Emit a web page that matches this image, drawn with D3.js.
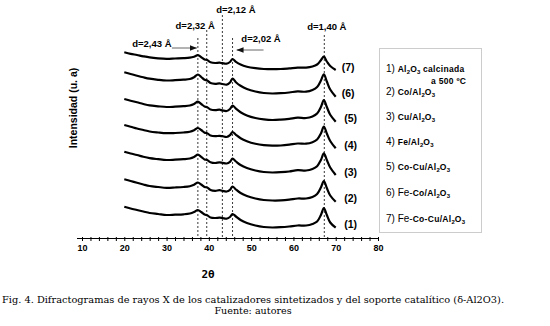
<!DOCTYPE html>
<html>
<head>
<meta charset="utf-8">
<script src="https://cdn.jsdelivr.net/npm/d3@7"></script>
<style>
  html, body { margin: 0; padding: 0; background: #fff; }
  svg { display: block; }
</style>
</head>
<body>
<svg id="chart" width="550" height="326"></svg>
<script>
// ---------------- DATA ----------------
const twoTheta = [20, 21.5, 23, 24.5, 26, 28, 30, 32, 34, 35.5, 36.5, 37.4, 38.2, 39, 39.6, 40.4, 41.5, 42.5, 43.2, 44.2, 45, 45.6, 46.4, 47.5, 49, 51, 53, 55, 57, 59, 61, 63, 64.5, 65.6, 66.5, 67.2, 67.9, 68.7, 70];

const series1 = [31.3, 29.5, 28, 26.5, 25, 24, 23, 23.3, 23.7, 24.5, 26, 28, 26, 23.5, 22.8, 20.5, 20, 20.3, 20, 19.3, 21, 24, 21.5, 18, 15, 12.5, 11, 10.5, 10.8, 11.5, 12.5, 12.5, 14, 16.5, 23, 30, 23, 15.5, 10.3];
const series2 = [58.7, 57, 55.2, 53.5, 52, 51, 50.2, 50.5, 51, 51.8, 53.2, 55.5, 53.5, 51, 50.5, 48, 47.2, 47.8, 47.2, 46.5, 48.2, 51.5, 48.5, 45, 42, 39.5, 38, 37.5, 37.6, 38.3, 39.5, 39.5, 41, 44, 50.5, 57, 50, 42.5, 36.3];
const series3 = [86.3, 84.5, 83, 81.2, 79.8, 78.8, 78, 78.3, 78.8, 79.5, 81, 83.3, 81.2, 78.5, 78, 75.8, 75, 75.6, 75.2, 74.5, 76.2, 79.3, 76.5, 73, 70, 67.5, 66, 65.5, 65.8, 66.5, 67.8, 67.5, 69, 71.8, 78, 84.7, 78, 70.5, 63];
const series4 = [113, 111.3, 109.5, 108, 106.5, 105.5, 104.8, 105, 105.5, 106.3, 107.8, 110, 108, 105.3, 104.8, 102.5, 101.8, 102.2, 101.8, 101, 102.8, 106, 103.2, 99.8, 96.8, 94.2, 92.8, 92.3, 92.5, 93.3, 94.5, 94.3, 95.8, 98.5, 104.5, 111.3, 104.5, 97, 89.7];
const series5 = [139, 137.3, 135.7, 134, 132.6, 131.7, 131, 131.3, 131.8, 132.5, 134, 136.3, 134, 131.5, 130.8, 128.5, 127.8, 128.3, 127.6, 127, 129, 132.5, 129.3, 125.8, 122.6, 120, 118.6, 118, 118.4, 119.2, 120.3, 120, 121.6, 124.5, 131, 138, 131, 123.2, 116.3];
const series6 = [165.7, 164, 162.3, 160.7, 159.3, 158.2, 157.5, 157.8, 158.3, 159, 160.8, 163.5, 161, 158.2, 157.6, 155, 154.2, 154.6, 154, 153.3, 155.5, 159.5, 155.8, 152.2, 149, 146.5, 145, 144.5, 144.8, 145.5, 146.6, 146.3, 148, 151, 157.5, 163.7, 156.5, 148.5, 141.3];
const series7 = [185.7, 184.2, 183, 181.7, 180.6, 179.7, 179.2, 179.5, 179.8, 180.3, 181.3, 182.8, 180.8, 178.5, 178, 175.8, 175, 175.3, 174.8, 174.3, 176, 179, 176.2, 173.5, 171.3, 169.8, 169, 168.8, 169, 169.6, 170.3, 170.4, 171.5, 173.5, 177.8, 181.3, 176.5, 172, 168];

const seriesLabels = ["(1)", "(2)", "(3)", "(4)", "(5)", "(6)", "(7)"];

const xTicks = [10, 20, 30, 40, 50, 60, 70, 80];

const refPeaks = [37.4, 39.5, 43.2, 45.6, 67.3];
const refLabels = ["d=2,43 Å", "d=2,32 Å", "d=2,12 Å", "d=2,02 Å", "d=1,40 Å"];

// legend entries ("_" marks a subscript digit)
const legendNums = ["1)", "2)", "3)", "4)", "5)", "6)", "7)"];
const legendBig = ["", "", "", "", "", "Fe-", "Fe-"];
const legendSmall = ["Al_2O_3 calcinada", "Co/Al_2O_3", "Cu/Al_2O_3", "Fe/Al_2O_3", "Co-Cu/Al_2O_3", "Co/Al_2O_3", "Co-Cu/Al_2O_3"];
const legendExtra = "a 500 ºC";

const xTitle = "2θ";
const yTitle = "Intensidad (u. a)";
const caption1 = "Fig. 4. Difractogramas de rayos X de los catalizadores sintetizados y del soporte catalítico (δ-Al2O3).";
const caption2 = "Fuente: autores";

// ---------------- DRAWING ----------------
const allSeries = [series1, series2, series3, series4, series5, series6, series7];
const svg = d3.select("#chart");
svg.append("rect").attr("width", 550).attr("height", 326).attr("fill", "#fff");

const x = d3.scaleLinear().domain([10, 80]).range([82, 378]);
const y = d3.scaleLinear().domain([0, 230]).range([238, 8]);
const axisY = 238;

const SANS = "'Liberation Sans', Arial, sans-serif";

// dashed reference lines
const dashTops = [38, 30, 15, 38, 35];
svg.selectAll("line.ref").data(refPeaks).enter().append("line")
  .attr("class", "ref")
  .attr("x1", d => x(d)).attr("x2", d => x(d))
  .attr("y1", (d, i) => dashTops[i]).attr("y2", axisY)
  .attr("stroke", "#222").attr("stroke-width", 0.9)
  .attr("stroke-dasharray", "2,2");

// x axis
const xAxis = d3.axisBottom(x)
  .tickValues(d3.range(10, 81, 2))
  .tickSize(3)
  .tickFormat(d => xTicks.includes(d) ? d : "");
const gx = svg.append("g").attr("transform", `translate(0,${axisY})`).call(xAxis);
gx.select(".domain").attr("d", `M77,0.5H378`).attr("stroke", "#000").attr("stroke-width", 1.2);
gx.selectAll(".tick line").attr("y1", -1).attr("stroke", "#000").attr("stroke-width", 1);
gx.selectAll(".tick text")
  .attr("y", 7)
  .attr("font-family", SANS).attr("font-size", 9).attr("font-weight", "bold")
  .attr("fill", "#000");

// axis titles
svg.append("text").attr("x", 208).attr("y", 278)
  .attr("text-anchor", "middle")
  .attr("font-family", "'DejaVu Sans Mono', monospace").attr("font-weight", "bold").attr("font-size", 11)
  .text(xTitle);

svg.append("text")
  .attr("transform", "translate(76.5,108) rotate(-90)")
  .attr("text-anchor", "middle")
  .attr("font-family", SANS).attr("font-weight", "bold").attr("font-size", 10.5)
  .text(yTitle);

// curves
const line = d3.line()
  .x((d, i) => x(twoTheta[i]))
  .y(d => y(d))
  .curve(d3.curveCatmullRom.alpha(0.5));

svg.selectAll("path.xrd").data(allSeries).enter().append("path")
  .attr("class", "xrd")
  .attr("d", d => line(d))
  .attr("fill", "none")
  .attr("stroke", "#000")
  .attr("stroke-width", 2.2)
  .attr("stroke-linejoin", "round");

// curve labels
svg.selectAll("text.slab").data(allSeries).enter().append("text")
  .attr("class", "slab")
  .attr("x", (d, i) => x(70) + (i === 5 || i === 6 ? 6 : 8.5))
  .attr("y", d => y(d[d.length - 1]) - 3)
  .attr("dy", "0.35em")
  .attr("font-family", SANS).attr("font-size", 10.5).attr("font-weight", "bold")
  .text((d, i) => seriesLabels[i]);

// reference labels and arrows
const defs = svg.append("defs");
defs.append("marker").attr("id", "ah")
  .attr("viewBox", "0 0 10 10").attr("refX", 10).attr("refY", 5)
  .attr("markerWidth", 7).attr("markerHeight", 7).attr("orient", "auto")
  .attr("markerUnits", "userSpaceOnUse")
  .append("path").attr("d", "M0,1 L10,5 L0,9 Z").attr("fill", "#111");

const labelPos = [
  {dx: -46, y: 46.5}, // 2.43
  {dx: -11.5, y: 28.5}, // 2.32
  {dx: 13.5, y: 12.5}, // 2.12
  {dx: 28.5, y: 41.5}, // 2.02
  {dx: 2.5, y: 30}  // 1.40
];
svg.selectAll("text.dlab").data(refLabels).enter().append("text")
  .attr("class", "dlab")
  .attr("x", (d, i) => x(refPeaks[i]) + labelPos[i].dx)
  .attr("y", (d, i) => labelPos[i].y)
  .attr("text-anchor", "middle")
  .attr("font-family", SANS).attr("font-size", 9.5).attr("font-weight", "bold")
  .text(d => d);

svg.append("line")
  .attr("x1", x(refPeaks[0]) - 26).attr("x2", x(refPeaks[0]) - 1)
  .attr("y1", 48).attr("y2", 48)
  .attr("stroke", "#666").attr("stroke-width", 1)
  .attr("marker-end", "url(#ah)");
svg.append("line")
  .attr("x1", x(refPeaks[3]) + 31).attr("x2", x(refPeaks[3]) + 4)
  .attr("y1", 50).attr("y2", 50)
  .attr("stroke", "#666").attr("stroke-width", 1)
  .attr("marker-end", "url(#ah)");

// legend box
const lg = svg.append("g");
lg.append("rect").attr("x", 379.5).attr("y", 48.5).attr("width", 102).attr("height", 184)
  .attr("fill", "#fff").attr("stroke", "#ccc").attr("stroke-width", 1);

const lineYs = [71.5, 95, 120, 145, 170, 196, 221.5];
legendNums.forEach((num, i) => {
  const t = lg.append("text").attr("x", 386).attr("y", lineYs[i])
    .attr("font-family", SANS).attr("fill", "#000");
  t.append("tspan").attr("font-size", 10).text(num + " ");
  if (legendBig[i]) t.append("tspan").attr("font-size", 10).text(legendBig[i]);
  const parts = legendSmall[i].split(/(_\d)/).filter(s => s.length);
  let pending = 0;
  parts.forEach(p => {
    if (p.startsWith("_")) {
      t.append("tspan").attr("font-size", 6).attr("font-weight", "bold")
        .attr("dy", 2 - pending).text(p.slice(1));
      pending = 2;
    } else {
      t.append("tspan").attr("font-size", 8.5).attr("font-weight", "bold")
        .attr("letter-spacing", 0.3).attr("dy", -pending).text(p);
      pending = 0;
    }
  });
});
lg.append("text").attr("x", 431).attr("y", 83.5)
  .attr("font-family", SANS).attr("font-size", 8.5).attr("font-weight", "bold")
  .attr("letter-spacing", 0.3)
  .text(legendExtra);

// caption
const SERIF = "'DejaVu Serif', 'Liberation Serif', serif";
svg.append("text").attr("x", 253).attr("y", 302.5)
  .attr("text-anchor", "middle")
  .attr("font-family", SERIF).attr("font-size", 9.6)
  .attr("textLength", 502).attr("lengthAdjust", "spacingAndGlyphs")
  .text(caption1);
svg.append("text").attr("x", 253).attr("y", 314)
  .attr("text-anchor", "middle")
  .attr("font-family", SERIF).attr("font-size", 9.6)
  .text(caption2);
</script>
</body>
</html>
